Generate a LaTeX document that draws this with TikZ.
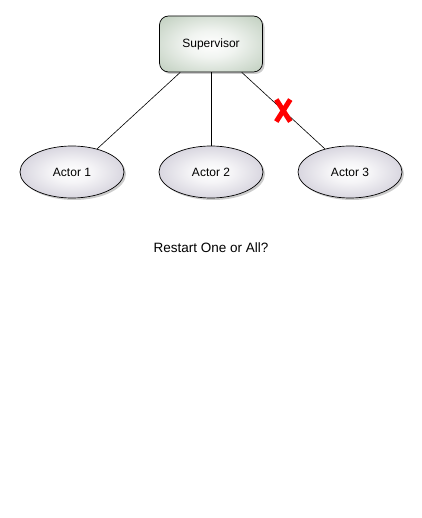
\documentclass[tikz,border=0pt]{standalone}
\usepackage{fontspec}
\setmainfont{Liberation Sans}
\usepackage{tikz}
\usetikzlibrary{positioning, calc, shapes.geometric, shadows}

\definecolor{supgreen}{RGB}{160,182,158}
\definecolor{actgray}{RGB}{170,165,186}
\pgfdeclareradialshading{supshade}{\pgfpoint{0bp}{0bp}}{color(0bp)=(white); color(12bp)=(white!85!supgreen); color(50bp)=(supgreen); color(75bp)=(supgreen)}
\pgfdeclareradialshading{actshade}{\pgfpoint{0bp}{0bp}}{color(0bp)=(white); color(10bp)=(white!88!actgray); color(50bp)=(actgray); color(75bp)=(actgray)}

\begin{document}
\begin{tikzpicture}[x=1pt, y=-1pt, font=\fontsize{12}{14}\selectfont,
    sup/.style={draw, line width=0.7pt, rounded corners=9pt, minimum width=103pt, minimum height=56pt,
      shading=supshade, drop shadow={opacity=0.4, shadow xshift=2pt, shadow yshift=-2pt}},
    actor/.style={draw, ellipse, line width=0.7pt, minimum width=104pt, minimum height=52pt,
      shading=actshade, drop shadow={opacity=0.4, shadow xshift=2pt, shadow yshift=-2pt}},
    link/.style={line width=0.6pt},
    cross/.style={red, line width=5pt}]
  \useasboundingbox (0,0) rectangle (421,518);
  % supervisor and its actors
  \node[sup] (sup) at (211,44) {Supervisor};
  \node[actor] (act1) at (72,172) {Actor 1};
  \node[actor] (act2) at (211,172) {Actor 2};
  \node[actor] (act3) at (350,172) {Actor 3};
  \draw[link] (sup) -- (act1);
  \draw[link] (sup) -- (act2);
  \draw[link] (sup) -- (act3);
  % failed child
  \coordinate (fail) at ($(sup)!0.52!(act3)$);
  \draw[cross] ($(fail)+(-7,-11)$) -- ($(fail)+(7,11)$);
  \draw[cross] ($(fail)+(7,-11)$) -- ($(fail)+(-7,11)$);
  \node[font=\fontsize{13.5}{16}\selectfont] (question) at (211,248) {Restart One or All?};
\end{tikzpicture}
\end{document}
